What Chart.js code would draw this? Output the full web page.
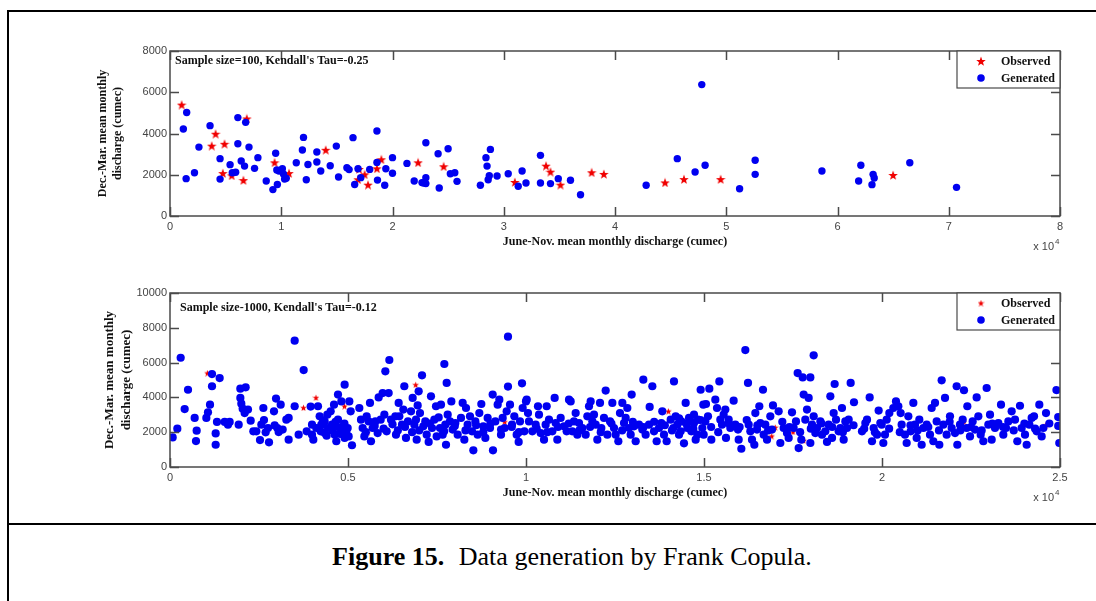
<!DOCTYPE html>
<html>
<head>
<meta charset="utf-8">
<script src="https://cdn.jsdelivr.net/npm/chart.js@4.4.1/dist/chart.umd.min.js"></script>
<style>
  body { margin: 0; background: #fff; }
  #page { position: relative; width: 1096px; height: 601px; overflow: hidden; background: #fff; }
  #frame { position: absolute; left: 7px; top: 10px; width: 1089px; height: 591px;
           border-left: 2px solid #000; border-top: 2px solid #000; box-sizing: border-box; }
  #rule { position: absolute; left: 7px; top: 523px; width: 1089px; height: 2px; background: #000; }
  #caption { position: absolute; left: 0; top: 542px; width: 1144px; text-align: center;
             font: 26px/30px "Liberation Serif", serif; color: #000; }
  #caption b { margin-right: 8px; }
  canvas { position: absolute; left: 0; }
</style>
</head>
<body>
<div id="page">
  <div id="frame"></div>
  <canvas id="top100" width="1096" height="260" style="top:0"></canvas>
  <canvas id="top1000" width="1096" height="255" style="top:260px"></canvas>
  <div id="rule"></div>
  <div id="caption"><b>Figure 15.</b> Data generation by Frank Copula.</div>
</div>
<script>
// observed pairs (June-Nov, Dec-Mar) in cumec, same record used on both panels
const observed = [
  [1050,5400],[4100,3990],[3750,3410],[4900,3500],[6900,4730],[4750,2080],[5550,1970],[6600,1740],
  [9400,2600],[10700,2080],[14000,3210],[16900,1780],[17000,2280],[17500,2020],[17800,1520],[18600,2310],
  [19000,2750],[22300,2600],[24600,2410],[31000,1650],[33800,2440],[34200,2150],[35100,1520],[37900,2120],
  [39000,2040],[44500,1630],[46200,1790],[49500,1790],[65000,1990]
];

// sample size 100
const generated100 = [
  [1200,4220],[1500,5020],[1450,1810],[2200,2100],[2600,3340],[3600,4380],[4500,2780],[4500,1790],
  [5400,2490],[5600,2100],[5900,2120],[6100,4770],[6100,3500],[6400,2670],[6700,2420],[6800,4540],
  [7100,3340],[7600,2310],[7900,2830],[8650,1700],[9250,1280],[9500,3040],[9600,2230],[9650,1530],
  [9800,2180],[10100,2290],[10300,1790],[10450,1830],[10200,2040],[11350,2580],[11900,3200],[12000,3810],
  [12250,1760],[12400,2500],[13200,3100],[13200,2620],[13550,2180],[14400,2440],[14950,3390],[15150,1890],
  [15900,2340],[16100,2250],[16450,3800],[16600,1530],[16900,2290],[17150,1860],[17950,2260],[18600,2600],
  [18600,4120],[18650,1740],[19400,2290],[19300,1490],[20000,2830],[20000,2070],
  [21300,2550],[21950,1700],[22650,1620],[23000,3550],[23000,1860],[22800,1600],[23000,1570],[24100,3020],
  [24200,1360],[25000,3260],[25200,2050],[25600,2100],[25800,1680],[27900,1490],[28400,2830],[28500,2420],
  [28800,3230],[28700,1950],[28600,1760],[29400,1940],[30400,2050],[31300,1440],[31650,2180],[32000,1600],
  [33300,2940],[33300,1600],[34200,1570],[34900,1810],[36000,1730],[36900,1030],[42800,1490],[45600,2780],
  [47200,2130],[47800,6370],[48100,2460],[51200,1320],[52600,2700],[52600,2020],
  [58600,2180],[62100,2460],[61900,1700],[63200,2020],[63300,1840],[63100,1520],[66500,2580],[70700,1390]
];

// sample size 1000 (visible points)
const generated1000 = [
  [75,1700],[206,2200],[300,6280],[412,3330],[506,4440],[693,2820],[749,2090],[730,1490],[1021,2820],[1067,3140],
  [1124,3580],[1180,5340],[1180,4640],[1283,1930],[1283,1280],[1320,2590],[1395,5110],[1536,2590],[1629,2430],[1676,2590],
  [1929,2430],[1976,4500],[2125,4580],[1976,3970],[2004,3640],[2041,3350],[2097,3100],[2191,3300],[2266,2660],[2341,2050],
  [2425,2050],[2528,1550],[2566,2430],[2622,3390],[2640,2700],[2687,1990],[2753,2240],[2781,1420],[2921,3200],[2940,2390],
  [2978,3930],[3015,2240],[3052,2010],[3109,3580],[3165,2150],[3268,2720],[3333,2820],[3333,1570],[3502,7260],[3502,3490],
  [3614,1860],[3755,5570],[3839,2050],[3951,3470],[3989,2430],[3989,1860],[4026,1570],[4110,2240],[4157,3490],[4204,2910],
  [4251,2430],[4298,2660],[4345,1950],[4419,3010],[4513,3200],[4551,2430],[4607,3580],[4625,1860],[4672,1480],[4719,4160],
  [4719,2720],[4813,3770],[4860,2340],[4906,4730],[4906,1670],[4953,2050],[4813,2150],[4438,2240],[4232,2050],[4345,2620],
  [5037,3770],[5075,3200],[4991,2240],[5019,1760],[5112,1250],[5318,3390],[5365,2720],[5412,2240],[5459,1760],[5524,2910],
  [5581,2620],[5618,3680],[5646,1480],[5693,2240],[5768,2620],[5833,1950],[5861,4000],[5918,2720],[5974,4250],[6021,3010],
  [6049,5500],[6086,2050],[6142,4250],[6161,6150],[6208,2720],[6330,2910],[6348,1860],[6423,3680],[6442,2910],[6517,2430],
  [6554,3300],[6582,4640],[6629,1670],[6685,2620],[6770,3200],[6816,3970],[6863,2430],[6910,2720],[6957,3540],[6985,4350],
  [7022,3100],[7079,5270],[6929,1570],[7116,2340],[7172,2620],[7210,1860],[7266,1440],[7331,4060],[7360,2240],[7425,2720],
  [7472,3490],[7491,1760],[7547,2850],[7584,2240],[7612,3580],[7659,1860],[7706,5920],[7734,2430],[7772,4830],[7753,1280],
  [7800,3010],[7865,2620],[7903,3770],[7940,2150],[8015,2530],[8081,1860],[8174,2820],[8221,3680],[8268,1570],[8315,3390],
  [8361,2430],[8427,2910],[8483,2050],[8521,960],[8577,2620],[8642,1860],[8689,3100],[8745,3620],[8801,2340],[8858,1670],
  [8923,2820],[8989,2240],[9064,4160],[9073,960],[9139,2620],[9204,3580],[9251,3870],[9298,1860],[9345,2820],[9401,2240],
  [9457,3200],[9494,7490],[9494,4620],[9551,3580],[9607,2430],[9672,2910],[9738,1860],[9794,1440],[9831,2620],[9888,4810],
  [9906,3390],[9953,2050],[10000,3770],
  [10019,3870],[10056,3100],[10084,2620],[10178,2050],[10272,2430],[10337,3490],[10365,3010],[10412,1950],[10506,1570],[10552,2430],
  [10581,3490],[10646,2720],[10740,2050],[10805,3970],[10833,2530],[10880,1570],[10974,2820],[11067,2340],[11142,2050],[11208,3870],
  [11255,3770],[11301,2050],[11348,2620],[11395,3100],[11442,1860],[11489,2530],[11582,2240],[11676,1860],[11723,2910],[11770,3490],
  [11816,3770],[11863,2620],[11910,3010],[11957,2430],[12004,1570],[12079,3680],[12116,2240],[12191,2820],[12238,4390],[12285,1860],
  [12360,2620],[12425,3680],[12472,2240],[12519,1860],[12594,1480],[12640,3100],[12706,3680],[12753,2530],[12800,2820],[12846,3390],
  [12893,2240],[12940,1860],[12968,4160],[13034,2340],[13081,1480],[13174,2430],[13268,2150],[13296,5020],[13361,1860],[13455,2430],
  [13474,3450],[13549,4640],[13596,2050],[13670,1480],[13736,2240],[13801,2530],[13829,3200],[13876,1860],[13951,1480],[14064,2720],
  [14157,4920],[14204,2910],[14251,2430],[14298,1860],[14363,2620],[14438,1360],[14485,3680],[14532,2240],[14579,2820],[14644,2050],
  [14719,2530],[14766,1570],[14831,2720],[14906,4440],[14953,2240],[14981,3580],[14139,2240],[14345,2050],[14625,2620],[14813,1860],
  [14719,3010],
  [15150,4500],[15056,3620],[15037,2620],[14991,1860],[15112,2910],[15206,1570],[15318,3870],[15365,3390],[15431,4920],[15459,2720],
  [15506,2430],[15552,3010],[15599,3300],[15618,1670],[15693,2720],[15740,2240],[15833,3810],[15880,2430],[15955,2150],[15974,1570],
  [16049,1050],[16161,6720],[16236,4830],[16255,2430],[16302,2050],[16348,1570],[16414,1280],[16442,3100],[16489,2150],[16554,3490],
  [16582,2530],[16657,4440],[16676,1860],[16723,2430],[16770,1570],[16863,2910],[16910,2150],[16938,3540],[17097,3200],[17144,1380],
  [17238,2240],[17331,1950],[17378,1670],[17472,3140],[17519,2240],[17584,2620],[17631,5400],[17659,1090],[17734,1570],[17772,5150],
  [17800,4160],[17846,2720],[17893,3300],[17940,3970],[17987,5150],[17987,1380],[18034,2430],[18081,6420],[18081,2910],[18127,1950],
  [18174,2240],[18268,2620],[18315,1860],[18408,2050],[18455,1440],[18502,2430],[18549,4060],[18596,1670],[18642,3100],[18670,4770],
  [18708,2720],[18783,2050],[18830,2240],[18876,3390],[18923,1570],[18970,2620],[19017,2240],[19064,2720],[19120,4830],[19213,3720],
  [19438,2050],[19532,2530],[19579,2720],[19654,4000],[19719,1480],[19766,2240],[19860,1860],[19906,3240],[19953,2530],
  [19991,2430],[20084,1860],[20037,1380],[20131,2720],[20206,3100],[20318,3390],[20393,3770],[20459,3490],[20524,3100],[20552,2430],
  [20646,1860],[20693,1380],[20740,2910],[20805,2050],[20880,3680],[20927,2430],[20974,1670],[21049,2720],[21114,1280],[21161,2240],
  [21255,2430],[21348,1860],[21395,3390],[21442,1480],[21489,3680],[21536,2620],[21610,1280],[21676,4980],[21723,2430],[21770,3970],
  [21816,1860],[21910,2910],[21957,2240],[22051,1950],[22097,4640],[22116,1280],[22191,2430],[22266,2720],[22303,4410],[22378,2240],
  [22397,3490],[22472,1760],[22547,2620],[22612,2150],[22659,4000],[22706,2910],[22772,1860],[22846,1480],[22940,4540],[22987,2430],
  [23034,3010],[23081,1570],[23174,2240],[23268,2530],[23343,3580],[23408,1860],[23483,2240],[23549,2620],[23642,3200],[23736,2720],
  [23801,1480],[23876,3520],[23923,2240],[24017,1860],[24064,1280],[24139,2430],[24204,2820],[24270,2910],[24345,2050],[24419,3580],
  [24485,1760],[24532,2240],[24607,3100],[24900,4420],[24950,2870],[24950,2360],[24980,1380],
  // dense 1800-2800 band
  [4560,2100],[4700,2300],[4780,1900],[4900,2500],[4650,2600],[4400,1800],
  [5500,2000],[5750,2350],[6000,2200],[6250,2450],[6400,2100],[6600,2300],[6800,2000],
  [7000,2100],[7300,2500],[7700,2050],[8000,2350],[8300,2100],[8600,2400],[8800,2000],
  [9000,2500],[9300,2150],[9600,2300],[9800,2000],
  [10300,2200],[10600,2000],[10900,2300],[11200,2500],[11500,2100],[11800,2300],[12100,2000],[12400,2500],[12700,2100],[13000,2600],
  [13300,2300],[13600,2600],[13900,2400],[14100,2100],[14300,2800],[14500,2500],[14700,2200],[14900,2700],
  [15200,2300],[15400,2000],[15700,2500],[16000,2300],[16200,2700],[16500,2400],[16800,2100],
  [17200,2600],[17400,2300],[17700,2000],[18000,2200],[18300,2500],[18600,2300],[18900,2000],[19200,2400],[19500,2200],[19800,2000],
  [20200,2200],[20500,2000],[20800,2400],[21000,2100],[21300,2300],[21600,2100],[21900,2600],[22200,2100],[22500,2300],[22800,2100],
  [23100,2500],[23400,2300],[23700,2100],[24000,2500],[24300,2200],[24700,2500]
];

const xTitle = "June-Nov. mean monthly discharge (cumec)";
const yTitle = ["Dec.-Mar. mean monthly", "discharge (cumec)"];
const seriesNames = ["Observed", "Generated"];

const RED = "#f00000";
const BLUE = "#0000f0";
const SERIF = "Liberation Serif";
const SANS = "Liberation Sans";

function makeStar(size) {
  const c = document.createElement("canvas");
  c.width = c.height = size;
  const g = c.getContext("2d");
  const R = size / 2, r = R * 0.42, cx = size / 2, cy = size / 2 + size * 0.06;
  g.beginPath();
  for (let i = 0; i < 10; i++) {
    const a = -Math.PI / 2 + i * Math.PI / 5;
    const rad = i % 2 ? r : R;
    g.lineTo(cx + rad * Math.cos(a), cy + rad * Math.sin(a));
  }
  g.closePath();
  g.fillStyle = RED;
  g.fill();
  return c;
}

// matlab style box, inward ticks, note, legend and exponent label
const matlabBox = {
  id: "matlabBox",
  afterDatasetsDraw(chart, args, o) {
    const { ctx, chartArea: a, scales: { x, y } } = chart;
    ctx.save();
    ctx.strokeStyle = "#4a4a4a";
    ctx.lineWidth = 1.5;
    ctx.strokeRect(a.left, a.top, a.right - a.left, a.bottom - a.top);
    ctx.beginPath();
    const t = 9;
    x.ticks.forEach(tk => {
      const px = Math.round(x.getPixelForValue(tk.value)) + 0.5;
      ctx.moveTo(px, a.bottom); ctx.lineTo(px, a.bottom - t);
      ctx.moveTo(px, a.top); ctx.lineTo(px, a.top + t);
    });
    y.ticks.forEach(tk => {
      const py = Math.round(y.getPixelForValue(tk.value)) + 0.5;
      ctx.moveTo(a.left, py); ctx.lineTo(a.left + t, py);
      ctx.moveTo(a.right, py); ctx.lineTo(a.right - t, py);
    });
    ctx.stroke();

    // note
    ctx.fillStyle = "#111";
    ctx.font = "bold 12px '" + SERIF + "'";
    ctx.textBaseline = "middle";
    ctx.textAlign = "left";
    ctx.fillText(o.note, a.left + o.noteDx, a.top + o.noteDy);

    // x 10^4
    ctx.fillStyle = "#444";
    ctx.font = "11px '" + SANS + "'";
    ctx.textAlign = "right";
    ctx.fillText("x 10", a.right - 6, a.bottom + 31);
    ctx.font = "8px '" + SANS + "'";
    ctx.textAlign = "left";
    ctx.fillText("4", a.right - 5, a.bottom + 26);

    // legend box
    const lw = 103, lh = 37;
    const lx = a.right - lw, ly = a.top;
    ctx.fillStyle = "#fff";
    ctx.fillRect(lx, ly, lw, lh);
    ctx.strokeStyle = "#4a4a4a";
    ctx.lineWidth = 1.2;
    ctx.strokeRect(lx, ly, lw, lh);
    const mx = lx + 24;
    ctx.drawImage(o.legendStar, mx - o.legendStar.width / 2, ly + 10 - o.legendStar.height / 2);
    ctx.fillStyle = BLUE;
    ctx.beginPath();
    ctx.arc(mx, ly + 27, 3.8, 0, Math.PI * 2);
    ctx.fill();
    ctx.fillStyle = "#111";
    ctx.font = "bold 12px '" + SERIF + "'";
    ctx.textAlign = "left";
    ctx.fillText(seriesNames[0], lx + 44, ly + 10.5);
    ctx.fillText(seriesNames[1], lx + 44, ly + 27.5);
    ctx.restore();
  }
};

function panel(id, gen, opt) {
  const star = makeStar(opt.starSize);
  return new Chart(document.getElementById(id), {
    type: "scatter",
    data: {
      datasets: [
        {
          label: seriesNames[0],
          data: observed.map(p => ({ x: p[0], y: p[1] })),
          pointStyle: star,
          pointRadius: opt.starSize / 2,
          order: 1
        },
        {
          label: seriesNames[1],
          data: gen.map(p => ({ x: p[0], y: p[1] })),
          pointStyle: "circle",
          pointRadius: opt.dot,
          backgroundColor: BLUE,
          borderColor: BLUE,
          borderWidth: 0,
          order: 0
        }
      ]
    },
    options: {
      responsive: false,
      animation: false,
      devicePixelRatio: 1,
      layout: { padding: { left: 170 - opt.yWidth, right: 36, top: opt.top, bottom: opt.bottom } },
      plugins: {
        legend: { display: false },
        tooltip: { enabled: false },
        matlabBox: { note: opt.note, noteDx: opt.noteDx, noteDy: opt.noteDy, legendStar: makeStar(opt.legendStar) }
      },
      scales: {
        x: {
          type: "linear", min: 0, max: opt.xMax,
          grid: { display: false, drawTicks: false },
          border: { display: false },
          ticks: {
            stepSize: opt.xStep, padding: 4, maxRotation: 0, color: "#444",
            font: { family: SANS, size: 11 },
            callback: v => String(v / 10000)
          },
          title: {
            display: true, text: xTitle, color: "#111",
            font: { family: SERIF, size: 12, weight: "bold", lineHeight: 1.25 },
            padding: { top: 0, bottom: 4 }
          },
          afterFit(s) { s.height = 37; }
        },
        y: {
          type: "linear", min: 0, max: opt.yMax,
          grid: { display: false, drawTicks: false },
          border: { display: false },
          ticks: {
            stepSize: 2000, padding: 3, color: "#444",
            font: { family: SANS, size: 11 },
            callback: v => String(v)
          },
          title: {
            display: true, text: yTitle, color: "#111",
            font: { family: SERIF, size: opt.yFont, weight: "bold", lineHeight: opt.yLine },
            padding: { top: 0, bottom: 0 }
          },
          afterFit(s) { s.width = opt.yWidth; }
        }
      }
    },
    plugins: [matlabBox]
  });
}

panel("top100", generated100, {
  xMax: 80000, xStep: 10000, yMax: 8000, top: 51, bottom: 7,
  yWidth: 74.5, yFont: 12, yLine: 1.25, dot: 3.7, starSize: 10, legendStar: 10,
  note: "Sample size=100, Kendall's Tau=-0.25", noteDx: 5, noteDy: 10
});

panel("top1000", generated1000, {
  xMax: 25000, xStep: 5000, yMax: 10000, top: 33, bottom: 11,
  yWidth: 68.5, yFont: 13, yLine: 1.3, dot: 4.1, starSize: 7, legendStar: 7,
  note: "Sample size-1000, Kendall's Tau=-0.12", noteDx: 10, noteDy: 15
});
</script>
</body>
</html>
